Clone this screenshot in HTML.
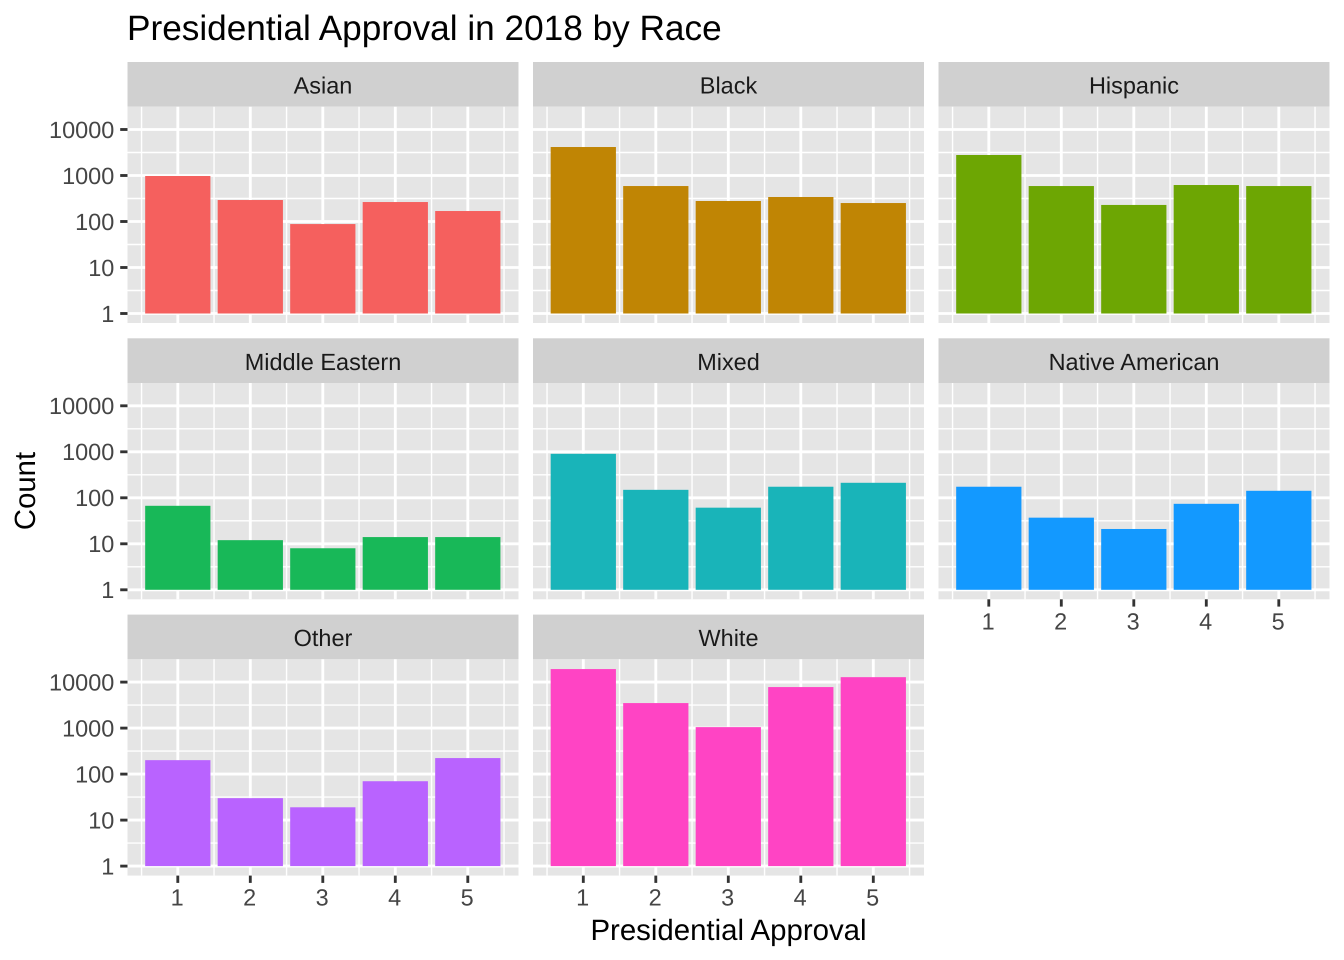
<!DOCTYPE html>
<html>
<head>
<meta charset="utf-8">
<title>Presidential Approval in 2018 by Race</title>
<style>
html,body{margin:0;padding:0;background:#fff;}
svg{display:block;}
text{font-family:"Liberation Sans",Arial,sans-serif;text-rendering:geometricPrecision;}
</style>
</head>
<body>
<svg id="chart" xmlns="http://www.w3.org/2000/svg" width="1344" height="960" viewBox="0 0 1344 960">
<rect width="1344" height="960" fill="#ffffff"/>
<text x="127" y="40" font-size="35.2" fill="#000000">Presidential Approval in 2018 by Race</text>
<text x="728.5" y="940" font-size="29.4" fill="#000000" text-anchor="middle">Presidential Approval</text>
<text transform="translate(35,491) rotate(-90)" font-size="29.3" fill="#000000" text-anchor="middle">Count</text>
<g id="panels"></g>
</svg>
<script>
const categories = [1, 2, 3, 4, 5];
const tickLabels = [1, 10, 100, 1000, 10000];
const minorTicks = [0.5, 1.5, 2.5, 3.5, 4.5, 5.5];
const facets = ["Asian", "Black", "Hispanic", "Middle Eastern", "Mixed", "Native American", "Other", "White"];
const asian = [975, 293, 88, 265, 169];
const black = [4160, 590, 279, 341, 252];
const hispanic = [2790, 590, 229, 621, 590];
const middleEastern = [67, 12, 8, 14, 14];
const mixed = [905, 149, 61, 174, 212];
const nativeAmerican = [174, 37, 21, 74, 142];
const other = [201, 30, 19, 70, 223];
const white = [19200, 3500, 1050, 7800, 12800];
const seriesValues = [asian, black, hispanic, middleEastern, mixed, nativeAmerican, other, white];
const facetColors = ["#F5605E", "#C08504", "#6DA603", "#18B858", "#19B4B9", "#1399FF", "#B963FF", "#FF44C4"];

const SVG_NS = "http://www.w3.org/2000/svg";
const root = document.getElementById("panels");
const panelW = 391, stepX = 405.5, left0 = 127.5;
const stripTop0 = 62, rowStep = 276.3, stripH = 44.7, panelH = 216.3;
const unitX = 72.5, xOrigin = 50.3;
const decade = 46, baseOffset = 206.8;

function panelLeft(col) { return left0 + col * stepX; }
function stripTop(row) { return stripTop0 + row * rowStep; }
function panelTop(row) { return stripTop(row) + stripH; }
function xScale(col, v) { return panelLeft(col) + xOrigin + (v - 1) * unitX; }
function yScale(row, v) { return panelTop(row) + baseOffset - Math.log10(v) * decade; }

function make(tag, attrs, parent, txt) {
  const el = document.createElementNS(SVG_NS, tag);
  for (const k in attrs) el.setAttribute(k, attrs[k]);
  if (txt !== undefined) el.textContent = txt;
  parent.appendChild(el);
  return el;
}

facets.forEach(function (name, i) {
  const col = i % 3;
  const row = Math.floor(i / 3);
  const L = panelLeft(col), T = panelTop(row), R = L + panelW, B = T + panelH;
  const key = name.toLowerCase().replace(/ /g, "-");

  const g = make("g", {}, root);
  
  

  const strip = make("rect", { x: L, y: stripTop(row), width: panelW, height: stripH, fill: "#D0D0D0" }, g);
  
  

  const stripLabel = make("text", { x: L + panelW / 2, y: stripTop(row) + 31.5, "font-size": 23.47, fill: "#1A1A1A", "text-anchor": "middle" }, g, name);
  
  

  const bg = make("rect", { x: L, y: T, width: panelW, height: panelH, fill: "#E5E5E5" }, g);
  
  

  // minor gridlines
  minorTicks.forEach(function (m) {
    const ln = make("line", { x1: xScale(col, m), x2: xScale(col, m), y1: T, y2: B, stroke: "#FFFFFF", "stroke-width": 1.42 }, g);
    
    
  });
  for (let t = 0; t < tickLabels.length - 1; t++) {
    const mid = Math.sqrt(tickLabels[t] * tickLabels[t + 1]);
    const ln = make("line", { x1: L, x2: R, y1: yScale(row, mid), y2: yScale(row, mid), stroke: "#FFFFFF", "stroke-width": 1.42 }, g);
    
    
  }
  // major gridlines
  categories.forEach(function (c) {
    const ln = make("line", { x1: xScale(col, c), x2: xScale(col, c), y1: T, y2: B, stroke: "#FFFFFF", "stroke-width": 2.85 }, g);
    
    
  });
  tickLabels.forEach(function (v) {
    const ln = make("line", { x1: L, x2: R, y1: yScale(row, v), y2: yScale(row, v), stroke: "#FFFFFF", "stroke-width": 2.85 }, g);
    
    
  });

  // bars
  seriesValues[i].forEach(function (v, j) {
    const cx = xScale(col, categories[j]);
    const top = yScale(row, v);
    const bar = make("rect", { x: cx - 0.45 * unitX, y: top, width: 0.9 * unitX, height: yScale(row, 1) - top, fill: facetColors[i] }, g);
    
    
  });

  // y axis on the first column
  if (col === 0) {
    tickLabels.forEach(function (v) {
      const y = yScale(row, v);
      const tick = make("line", { x1: L - 7.3, x2: L, y1: y, y2: y, stroke: "#333333", "stroke-width": 2.85 }, g);
      
      
      const lab = make("text", { x: L - 13.2, y: y + 8.4, "font-size": 23.47, fill: "#454545", "text-anchor": "end" }, g, String(v));
      
      
    });
  }

  // x axis on the lowest panel of each column
  if (i + 3 >= facets.length) {
    categories.forEach(function (c) {
      const x = xScale(col, c);
      const tick = make("line", { x1: x, x2: x, y1: B, y2: B + 7.3, stroke: "#333333", "stroke-width": 2.85 }, g);
      
      
      const lab = make("text", { x: x - 0.6, y: B + 30, "font-size": 23.47, fill: "#454545", "text-anchor": "middle" }, g, String(c));
      
      
    });
  }
});
</script>
</body>
</html>
